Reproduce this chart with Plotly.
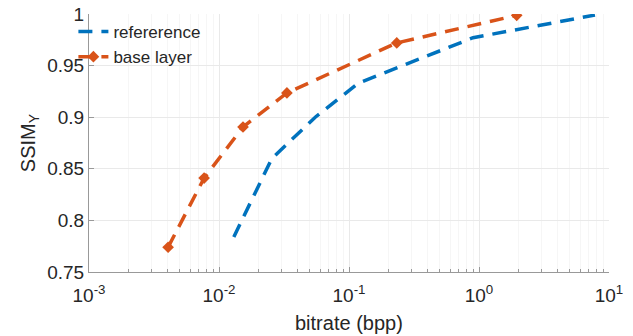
import plotly.graph_objects as go

ref_bitrate = [0.013, 0.0255, 0.055, 0.118, 0.9, 7.8]
ref_ssim = [0.784, 0.860, 0.900, 0.933, 0.977, 0.999]

base_bitrate = [0.00406, 0.00768, 0.0153, 0.0333, 0.233, 1.95]
base_ssim = [0.774, 0.841, 0.8905, 0.9235, 0.972, 0.9987]

x_tickvals = [1e-3, 1e-2, 1e-1, 1e0, 1e1]
x_ticktext = ["10<sup>-3</sup>", "10<sup>-2</sup>", "10<sup>-1</sup>", "10<sup>0</sup>", "10<sup>1</sup>"]
y_tickvals = [0.75, 0.8, 0.85, 0.9, 0.95, 1]
y_ticktext = ["0.75", "0.8", "0.85", "0.9", "0.95", "1"]

BLUE = "#0072BD"
ORANGE = "#D95319"
FONT = "Liberation Sans, Arial, Helvetica, sans-serif"
TXT = "#262626"
AX = "#999999"

fig = go.Figure()
fig.add_trace(go.Scatter(
    x=ref_bitrate, y=ref_ssim, name="refererence", mode="lines",
    line=dict(color=BLUE, width=3.5, dash="14px,9px"),
))
fig.add_trace(go.Scatter(
    x=base_bitrate, y=base_ssim, name="base layer", mode="lines+markers",
    line=dict(color=ORANGE, width=3.5, dash="14px,9px"),
    marker=dict(symbol="diamond", size=9, color=ORANGE),
))

fig.update_layout(
    width=633, height=336,
    margin=dict(l=89, r=24, t=14, b=64, autoexpand=False),
    paper_bgcolor="white", plot_bgcolor="white",
    font=dict(family=FONT, color=TXT, size=19),
    showlegend=True,
    legend=dict(
        x=-0.03, y=1.0, xanchor="left", yanchor="top",
        bgcolor="rgba(255,255,255,0)", font=dict(size=17, color=TXT),
        itemwidth=30, tracegroupgap=0,
    ),
    annotations=[
        dict(text="bitrate (bpp)", xref="paper", yref="paper", x=0.5, y=-0.198,
             xanchor="center", yanchor="middle", showarrow=False,
             font=dict(size=20, color=TXT)),
        dict(text="SSIM<sub>Y</sub>", xref="paper", yref="paper", x=-0.115, y=0.5,
             xanchor="center", yanchor="middle", showarrow=False, textangle=-90,
             font=dict(size=20, color=TXT)),
    ],
)
fig.update_xaxes(
    type="log", range=[-3, 1], automargin=False,
    tickmode="array", tickvals=x_tickvals, ticktext=x_ticktext,
    ticks="inside", ticklen=5, tickcolor=AX, ticklabelstandoff=6,
    showline=True, linecolor=AX, linewidth=1,
    showgrid=True, gridcolor="#e9e9e9", gridwidth=1,
    minor=dict(dtick="D1", ticks="inside", ticklen=3, tickcolor=AX,
               showgrid=True, gridcolor="#f6f6f6"),
    zeroline=False, tickfont=dict(size=19),
)
fig.update_yaxes(
    range=[0.75, 1], automargin=False,
    tickmode="array", tickvals=y_tickvals, ticktext=y_ticktext,
    ticks="inside", ticklen=5, tickcolor=AX,
    showline=True, linecolor=AX, linewidth=1,
    showgrid=True, gridcolor="#e9e9e9", gridwidth=1,
    zeroline=False, tickfont=dict(size=19),
)

fig.write_html("out.html", config={"displayModeBar": False, "staticPlot": True},
               post_script="document.body.style.margin='0px';")
